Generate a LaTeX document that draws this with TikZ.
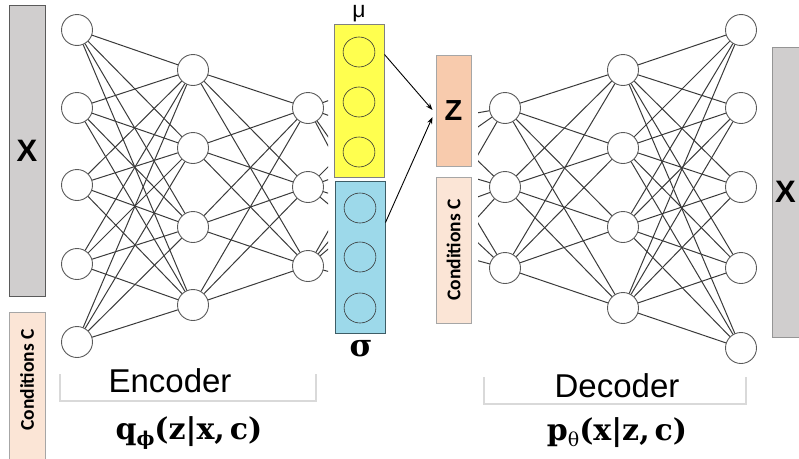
\documentclass[tikz,border=0pt]{standalone}
\usepackage{graphicx}
\usepackage{fontspec}
\setmainfont{Liberation Sans}
\newfontfamily\calibri{Carlito}
\newfontfamily\dserif{DejaVu Serif}
\usetikzlibrary{arrows.meta}
\definecolor{xgray}{HTML}{D0CECE}
\definecolor{condfill}{HTML}{FBE5D6}
\definecolor{zfill}{HTML}{F8CBAD}
\definecolor{mufill}{HTML}{FFFF4F}
\definecolor{sigfill}{HTML}{9DD9EA}
\definecolor{sigdraw}{HTML}{3E5D66}
\definecolor{boxgray}{HTML}{A6A6A6}
\definecolor{linegray}{HTML}{3A3A3A}
\definecolor{ngray}{HTML}{5A5A5A}
\definecolor{brgray}{HTML}{D9D9D9}
\begin{document}
\begin{tikzpicture}[x=1pt,y=-1pt,
  neuron/.style={circle,draw=ngray,line width=0.9pt,fill=white,minimum size=31pt,inner sep=0pt},
  conn/.style={draw=linegray,line width=1pt},
  unit/.style={circle,draw=black!80,line width=0.6pt,minimum size=30pt,inner sep=0pt,xscale=1.06},
  rbox/.style={rectangle,line width=1pt,inner sep=0pt},
  condtxt/.style={font=\calibri\bfseries\fontsize{19.5}{19.5}\selectfont},
  arr/.style={draw=black,line width=0.9pt,-{Stealth[length=7pt,width=5pt]}},
  bracket/.style={draw=brgray,line width=1.2pt},
  lbl/.style={font=\fontsize{33}{33}\selectfont,inner sep=0pt},
  frm/.style={font=\dserif\bfseries\fontsize{30}{30}\selectfont,inner sep=0pt}
]
\useasboundingbox (0,0) rectangle (799,458);

% input / output / side boxes
\node[rbox,fill=xgray,draw=ngray,minimum width=36pt,minimum height=291pt] (xin) at (27,150.5)
  {\bfseries\fontsize{31}{31}\selectfont X};
\node[rbox,fill=condfill,draw=boxgray,minimum width=152pt,minimum height=36pt,rotate=90] (cL) at (27,388) {};
\node[condtxt,rotate=90,inner sep=0pt] (cLt) at (27,380) {Conditions C};
\node[rbox,fill=xgray,draw=boxgray!90!black,minimum width=36pt,minimum height=290pt] (xout) at (790,192)
  {\hspace*{-9pt}\bfseries\fontsize{31}{31}\selectfont X};

% mu / sigma boxes
\node[rbox,fill=mufill,draw=black!50,minimum width=50pt,minimum height=153pt] (mu) at (359,100.5) {};
\node[rbox,fill=sigfill,draw=sigdraw,minimum width=50pt,minimum height=152pt] (sig) at (360,257) {};
\foreach \i/\y in {1/52,2/102,3/152} \node[unit] (m\i) at (359,\y) {};
\foreach \i/\y in {1/208,2/257,3/308} \node[unit] (s\i) at (360,\y) {};
\node[font=\fontsize{23}{23}\selectfont,inner sep=0pt] (mulbl) at (359,14) {μ};
\node[font=\dserif\bfseries\fontsize{31}{31}\selectfont,inner sep=0pt] (siglbl) at (361,349) {σ};

% Z and conditions boxes
\node[rbox,fill=zfill,draw=boxgray,minimum width=35pt,minimum height=111pt] (Z) at (453.5,110.5)
  {\bfseries\fontsize{29}{29}\selectfont Z};
\node[rbox,fill=condfill,draw=boxgray,minimum width=146pt,minimum height=35pt,rotate=90,condtxt] (cM) at (453.5,250) {Conditions C};

\draw[arr] ([yshift=-31pt]mu.north east) -- ([xshift=-3pt,yshift=0.5pt]Z.west);
\draw[arr] ([yshift=-42pt]sig.north east) -- ([xshift=-3pt,yshift=-6.5pt]Z.west);

% encoder neurons
\foreach \i/\y in {1/30,2/108,3/185,4/264,5/342} \coordinate (pa\i) at (77,\y);
\foreach \i/\y in {1/70,2/148,3/227,4/305} \coordinate (pb\i) at (193,\y);
\foreach \i/\y in {1/108,2/187,3/266} \coordinate (pc\i) at (308,\y);
% decoder neurons
\foreach \i/\y in {1/108,2/187,3/268} \coordinate (pd\i) at (505,\y);
\foreach \i/\y in {1/70,2/148,3/227,4/308} \coordinate (pe\i) at (623,\y);
\foreach \i/\y in {1/30,2/108,3/187,4/268,5/348} \coordinate (pf\i) at (741,\y);

% stubs
\begin{scope}
  \clip (290,0) rectangle (328,458);
  \foreach \a in {-20,20,55,62} \draw[conn] (pc1) -- ++(\a:70);
  \foreach \a in {-45,-20,17,40} \draw[conn] (pc2) -- ++(\a:70);
  \foreach \a in {-60,-50,-40,15} \draw[conn] (pc3) -- ++(\a:70);
\end{scope}
\begin{scope}
  \clip (478,0) rectangle (520,458);
  \foreach \a in {170,145,120} \draw[conn] (pd1) -- ++(\a:70);
  \foreach \a in {224,196,160,132} \draw[conn] (pd2) -- ++(\a:70);
  \foreach \a in {239,223,195} \draw[conn] (pd3) -- ++(\a:70);
\end{scope}

\foreach \i in {1,...,5} \node[neuron] (ea\i) at (pa\i) {};
\foreach \i in {1,...,4} \node[neuron] (eb\i) at (pb\i) {};
\foreach \i in {1,...,3} \node[neuron] (ec\i) at (pc\i) {};
\foreach \i in {1,...,3} \node[neuron] (dd\i) at (pd\i) {};
\foreach \i in {1,...,4} \node[neuron] (de\i) at (pe\i) {};
\foreach \i in {1,...,5} \node[neuron] (df\i) at (pf\i) {};

\foreach \i in {1,...,5} \foreach \j in {1,...,4} \draw[conn] (ea\i) -- (eb\j);
\foreach \i in {1,...,4} \foreach \j in {1,...,3} \draw[conn] (eb\i) -- (ec\j);
\foreach \i in {1,...,3} \foreach \j in {1,...,4} \draw[conn] (dd\i) -- (de\j);
\foreach \i in {1,...,4} \foreach \j in {1,...,5} \draw[conn] (de\i) -- (df\j);

% encoder / decoder labels
\coordinate (b1) at (60,374); \coordinate (b2) at (60,401); \coordinate (b3) at (316,401); \coordinate (b4) at (316,374);
\draw[bracket] (b1) -- (b2) -- (b3) -- (b4);
\coordinate (c1) at (484,377); \coordinate (c2) at (484,404); \coordinate (c3) at (746,404); \coordinate (c4) at (746,377);
\draw[bracket] (c1) -- (c2) -- (c3) -- (c4);
\node[lbl] (enc) at (170,381) {Encoder};
\node[lbl] (dec) at (617,386) {Decoder};

\node[frm] (qf) at (189,433)
  {q\raisebox{-6pt}{\fontsize{19}{19}\selectfont ϕ}(z|x,\,c)};
\node[frm] (pf) at (617,433)
  {p\raisebox{-6pt}{\mdseries\fontsize{19}{19}\selectfont θ}(x|z,\,c)};
\end{tikzpicture}
\end{document}
